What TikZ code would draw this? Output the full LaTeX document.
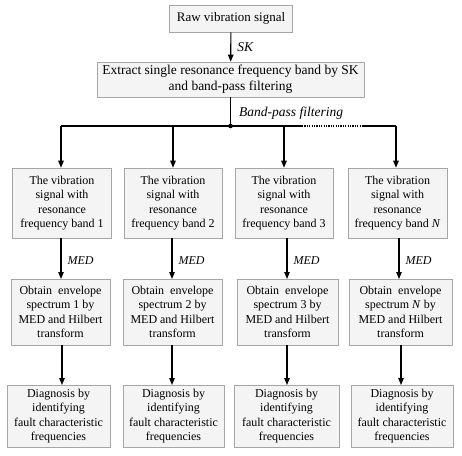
\documentclass[tikz,border=0pt]{standalone}
\usepackage{fontspec}
\setmainfont{Liberation Serif}
\usetikzlibrary{arrows.meta}
\begin{document}
\begin{tikzpicture}[x=1pt,y=-1pt,
  box/.style={draw=gray!70,fill=gray!9,line width=0.6pt,align=center,inner sep=1pt,
    font=\fontsize{12}{14.5}\selectfont,minimum height=#1},
  box/.default=30pt,
  arr/.style={line width=1.1pt,-{Triangle[length=7pt,width=5.5pt]}},
  ln/.style={line width=1.1pt},
  lab/.style={font=\fontsize{12}{14}\selectfont\itshape,anchor=west,inner sep=0pt}]
\useasboundingbox (0,0) rectangle (462,455);
\node[box=27pt,minimum width=123pt,font=\fontsize{13}{15}\selectfont] (raw) at (231,18.5) {Raw vibration signal};
\node[box=35pt,minimum width=267pt,font=\fontsize{13.5}{16}\selectfont] (ext) at (230.5,79.5) {Extract single resonance frequency band by SK\\and band-pass filtering};
\draw[arr] (raw) -- (ext) node[lab,midway,xshift=6pt,font=\fontsize{13.5}{15}\selectfont\itshape] {SK};
\coordinate (dot) at (230.5,126);
\coordinate (bl) at (61,126);
\coordinate (d1) at (302,126);
\coordinate (d2) at (363,126);
\coordinate (br) at (396,126);
\draw[ln] (ext.south) -- (dot);
\fill (dot) circle (2.3pt);
\node[lab,font=\fontsize{13.5}{15}\selectfont\itshape] at (239,113) {Band-pass filtering};
\draw[ln] (bl) -- (d1);
\draw[line width=1.1pt,dash pattern=on 1.2pt off 1.2pt] (d1) -- (d2);
\draw[ln] (d2) -- (br);
% row 1
\node[box=70pt,minimum width=99pt] (a1) at (62,203) {The vibration\\signal with\\resonance\\frequency band 1};
\node[box=70pt,minimum width=98pt] (a2) at (173,203) {The vibration\\signal with\\resonance\\frequency band 2};
\node[box=70pt,minimum width=98pt] (a3) at (284,203) {The vibration\\signal with\\resonance\\frequency band 3};
\node[box=70pt,minimum width=99pt] (a4) at (397.5,203) {The vibration\\signal with\\resonance\\frequency band \textit{N}};
% row 2
\node[box=66pt,minimum width=99pt] (b1) at (60.5,312) {Obtain\ \ envelope\\spectrum 1 by\\MED and Hilbert\\transform};
\node[box=66pt,minimum width=99pt] (b2) at (172.5,312) {Obtain\ \ envelope\\spectrum 2 by\\MED and Hilbert\\transform};
\node[box=66pt,minimum width=101pt] (b3) at (287.5,312) {Obtain\ \ envelope\\spectrum 3 by\\MED and Hilbert\\transform};
\node[box=66pt,minimum width=103pt] (b4) at (400.5,312) {Obtain\ \ envelope\\spectrum \textit{N} by\\MED and Hilbert\\transform};
% row 3
\node[box=62pt,minimum width=103pt] (c1) at (58.5,416) {Diagnosis by\\identifying\\fault characteristic\\frequencies};
\node[box=62pt,minimum width=101pt] (c2) at (173.5,416) {Diagnosis by\\identifying\\fault characteristic\\frequencies};
\node[box=62pt,minimum width=105pt] (c3) at (286.5,416) {Diagnosis by\\identifying\\fault characteristic\\frequencies};
\node[box=62pt,minimum width=102pt] (c4) at (402,416) {Diagnosis by\\identifying\\fault characteristic\\frequencies};
% branch arrows
\draw[arr] (bl) -- (bl |- a1.north);
\draw[arr] (a2.north |- bl) -- (a2.north);
\draw[arr] (a3.north |- bl) -- (a3.north);
\draw[arr] (br) -- (br |- a4.north);
% MED arrows
\foreach \i/\x in {1/61,2/172,3/287,4/399}{
  \draw[arr] (\x,238) -- (\x,279) node[lab,midway,xshift=6pt,yshift=-2pt] {MED};
}
\foreach \i/\x in {1/62,2/172,3/287,4/401}{
  \draw[arr] (\x,345) -- (\x,385);
}
\end{tikzpicture}
\end{document}
